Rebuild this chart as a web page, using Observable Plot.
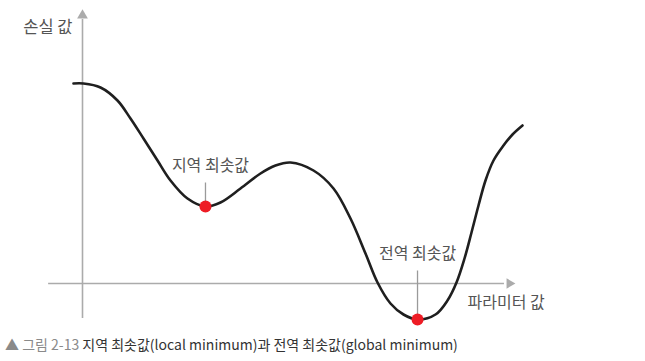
<!DOCTYPE html>
<html><head><meta charset="utf-8">
<script src="https://cdn.jsdelivr.net/npm/d3@7"></script>
<script src="https://cdn.jsdelivr.net/npm/@observablehq/plot@0.6"></script>
<style>
body{margin:0;background:#fff;font-family:"Noto Sans CJK KR","Noto Sans",sans-serif;}
#chart svg{display:block;}
#cap{font-size:14px;line-height:20px;padding:4px 0 0 5px;color:#333;white-space:nowrap;}
#cap .fig{color:#8a8a8a;}
</style></head><body>
<div id="chart"></div>
<div id="cap"><span class="fig">▲ 그림 2-13</span> 지역 최솟값(local minimum)과 전역 최솟값(global minimum)</div>
<script>
// loss curve (parameter value, loss value)
const params = [-0.205, 0.023, 0.409, 0.795, 1.091, 1.386, 1.705, 2.0, 2.386, 2.795, 3.136, 3.591, 4.045, 4.386, 4.727, 5.25, 5.705, 6.091, 6.432, 6.705, 7.0, 7.295, 7.614, 8.023, 8.295, 8.5, 8.682, 8.841, 9.0, 9.159, 9.341, 9.568, 9.773, 10];
const losses = [8.0, 8.0, 7.84, 7.32, 6.6, 5.8, 4.92, 4.12, 3.4, 3.08, 3.24, 3.8, 4.4, 4.72, 4.84, 4.52, 3.8, 2.6, 1.2, 0.04, -0.8, -1.24, -1.44, -1.24, -0.68, 0.04, 1.0, 2.04, 3.12, 4.12, 4.92, 5.52, 5.96, 6.32];

// minima
const minLabels = ["지역 최솟값", "전역 최솟값"];
const minParams = [2.795, 7.614];
const minLosses = [3.08, -1.44];
const leaderLengths = [0.96, 1.96];

// axis labels and extents
const yAxisLabel = "손실 값";
const xAxisLabel = "파라미터 값";
const xAxisExtent = [-0.77, 9.59];
const yAxisExtent = [-1.4, 10.56];
const xArrowAt = 9.705;
const yArrowAt = 10.72;

const curve = params.map((p, i) => ({param: p, loss: losses[i]}));
const minima = minLabels.map((label, i) => ({label, param: minParams[i], loss: minLosses[i], top: minLosses[i] + leaderLengths[i]}));

const axisColor = "#ababab";
const textColor = "#555";
const font = '"Noto Sans CJK KR", sans-serif';

const chart = Plot.plot({
  width: 645,
  height: 330,
  margin: 0,
  x: {domain: [0, 10], range: [82, 522], axis: null},
  y: {domain: [0, 8], range: [283, 83], axis: null},
  style: {fontFamily: font, background: "#fff"},
  marks: [
    // axes
    Plot.ruleY([0], {x1: xAxisExtent[0], x2: xAxisExtent[1], stroke: axisColor, strokeWidth: 1.6}),
    Plot.ruleX([0], {y1: yAxisExtent[0], y2: yAxisExtent[1], stroke: axisColor, strokeWidth: 1.6}),
    Plot.dot([{x: 0, y: yArrowAt}], {x: "x", y: "y", symbol: "triangle2", r: 5.14, fill: axisColor, stroke: null}),
    Plot.dot([{x: xArrowAt, y: 0}], {x: "x", y: "y", symbol: "triangle2", r: 4.9, fill: axisColor, stroke: null, rotate: 90}),
    // leaders
    Plot.link(minima, {x1: "param", x2: "param", y1: "loss", y2: "top", stroke: "#9a9a9a", strokeWidth: 1.3}),
    // curve
    Plot.line(curve, {x: "param", y: "loss", curve: "catmull-rom", stroke: "#1f1f1f", strokeWidth: 2.6}),
    // minima dots
    Plot.dot(minima, {x: "param", y: "loss", r: 6, fill: "#ee1c25", stroke: null}),
    // minima labels
    Plot.text(minima.slice(0, 1), {x: "param", y: "top", text: "label", dy: -17, dx: 5, fontSize: 16, fill: textColor, lineAnchor: "middle", fontFamily: font}),
    Plot.text(minima.slice(1, 2), {x: "param", y: "top", text: "label", dy: -17, dx: 0, fontSize: 16, fill: textColor, lineAnchor: "middle", fontFamily: font}),
    // axis labels
    Plot.text([yAxisLabel], {x: 0, y: yArrowAt, text: d => d, dx: -10, dy: 12, textAnchor: "end", fontSize: 16.5, fill: textColor, lineAnchor: "middle", fontFamily: font}),
    Plot.text([xAxisLabel], {x: xArrowAt, y: 0, text: d => d, dx: -42, dy: 19, textAnchor: "start", fontSize: 16, fill: textColor, lineAnchor: "middle", fontFamily: font})
  ]
});
document.getElementById("chart").appendChild(chart);
</script>
</body></html>
